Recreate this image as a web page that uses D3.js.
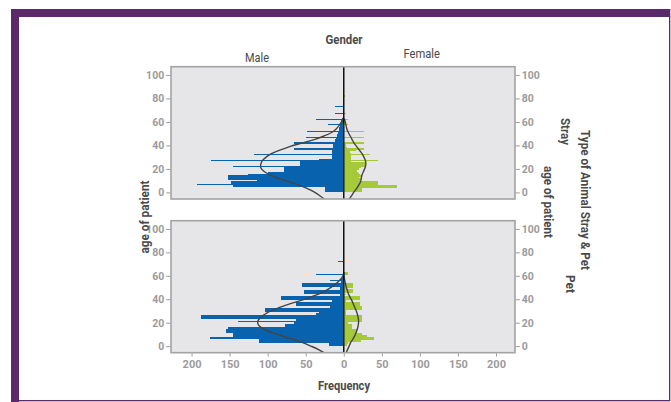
<!DOCTYPE html>
<html>
<head>
<meta charset="utf-8">
<script src="https://cdn.jsdelivr.net/npm/d3@7/dist/d3.min.js"></script>
<style>
  body { margin: 0; background: #fff; }
  text { font-family: Roboto, "Liberation Sans", sans-serif; }
</style>
</head>
<body>
<svg id="chart" width="671" height="402"></svg>
<script>
// counts per single year of age, index = age (0..82)
const strayMale = [
  0, 24, 24, 24, 25, 145, 145, 193, 148, 148,
  114, 152, 152, 152, 152, 126, 100, 100, 78, 78,
  78, 78, 146, 58, 58, 58, 58, 174, 33, 16,
  16, 16, 118, 15, 15, 15, 15, 65, 14, 14,
  14, 14, 65, 12, 12, 11, 10, 49, 9, 9,
  8, 8, 48, 6, 6, 6, 5, 5, 21, 4,
  3, 3, 36, 2, 0, 0, 0, 12, 0, 0,
  0, 0, 0, 11, 0, 0, 0, 0, 0, 0,
  0, 0, 0
];
const strayFemale = [
  0, 24, 24, 24, 70, 70, 70, 45, 45, 45,
  22, 22, 22, 20, 22, 21, 20, 19, 17, 17,
  20, 22, 29, 29, 29, 29, 10, 45, 9, 9,
  9, 9, 34, 9, 8, 8, 16, 27, 4, 3,
  3, 3, 27, 0, 0, 0, 0, 27, 0, 0,
  0, 0, 27, 0, 0, 0, 0, 0, 5, 2,
  2, 2, 5, 0, 0, 0, 0, 3, 0, 0,
  0, 0, 0, 0, 0, 0, 0, 0, 0, 0,
  0, 0, 2
];
const petMale = [
  0, 20, 20, 112, 112, 112, 112, 176, 145, 145,
  145, 145, 155, 155, 155, 152, 152, 77, 77, 65,
  65, 139, 63, 63, 187, 187, 187, 36, 36, 32,
  104, 104, 104, 18, 18, 63, 63, 63, 15, 15,
  83, 83, 83, 5, 5, 52, 52, 52, 5, 5,
  5, 55, 55, 55, 4, 4, 18, 3, 2, 0,
  0, 36, 0, 0, 0, 0, 0, 0, 0, 0,
  0, 0, 8, 0, 0, 0, 0, 0, 0, 0,
  0, 0, 0
];
const petFemale = [
  0, 4, 5, 5, 22, 22, 40, 40, 31, 31,
  24, 24, 18, 18, 18, 11, 11, 11, 11, 5,
  5, 24, 24, 24, 24, 24, 24, 3, 3, 3,
  3, 24, 24, 24, 24, 21, 21, 21, 3, 3,
  21, 21, 21, 0, 3, 0, 12, 12, 12, 3,
  12, 12, 12, 12, 0, 0, 0, 0, 0, 0,
  0, 6, 6, 6, 0, 0, 0, 0, 0, 0,
  0, 0, 0, 0, 0, 0, 0, 0, 0, 0,
  0, 0, 0
];

// density curves
const curveAges = [-6, -3, 0, 3, 6, 9, 12, 15, 18, 21, 24, 27, 30, 33, 36, 39, 42, 45, 48, 51, 54, 57, 60, 63];
const strayMaleCurve = [25, 31, 38, 47, 58, 71, 86, 97, 105, 109, 109, 107, 102, 95, 84, 71, 55, 39, 26, 16, 10, 6, 3, 0.5];
const strayFemaleCurve = [7, 10, 13, 16.5, 19.5, 22, 23, 24, 26, 28, 29, 28.5, 26.5, 24, 20.5, 17, 13.5, 11, 8.5, 6, 4, 3, 2, 0.5];
const petMaleCurve = [25, 33, 43, 54, 68, 82, 96, 106, 112, 113, 110, 104, 96, 84, 71, 56, 43, 31, 22, 15, 9, 4, 1, 0];
const petFemaleCurve = [3, 5, 7, 9, 12, 14.5, 16.5, 18, 19, 19.5, 19, 18, 16.5, 14.5, 12.5, 10.5, 8, 6, 4.5, 3, 2, 1, 0.3, 0];

const yTicks = [0, 20, 40, 60, 80, 100];
const xTicks = [-200, -150, -100, -50, 0, 50, 100, 150, 200];

const maleColor = "#0862ae";
const femaleColor = "#a6c93a";
const tickColor = "#9b9b9b";
const titleColor = "#4a4a4a";

const svg = d3.select("#chart");

// purple frame
const frame = "#5b2a6a";
svg.append("rect").attr("x", 11).attr("y", 9).attr("width", 659).attr("height", 8).attr("fill", frame);
svg.append("rect").attr("x", 11).attr("y", 9).attr("width", 8).attr("height", 393).attr("fill", frame);
svg.append("rect").attr("x", 669).attr("y", 9).attr("width", 1.3).attr("height", 392).attr("fill", frame);
svg.append("rect").attr("x", 11).attr("y", 400).attr("width", 659).attr("height", 1.3).attr("fill", frame);

const x = d3.scaleLinear().domain([-227, 225]).range([171, 515]);

const panels = [
  { name: "Stray", top: 66.7, bottom: 199, male: strayMale, female: strayFemale, mc: strayMaleCurve, fc: strayFemaleCurve },
  { name: "Pet", top: 220.7, bottom: 352.7, male: petMale, female: petFemale, mc: petMaleCurve, fc: petFemaleCurve }
];

panels.forEach((p, i) => {
  const y = d3.scaleLinear().domain([-5.6, 107]).range([p.bottom, p.top]);
  const g = svg.append("g");

  g.append("rect")
    .attr("x", x.range()[0]).attr("y", p.top)
    .attr("width", x.range()[1] - x.range()[0]).attr("height", p.bottom - p.top)
    .attr("fill", "#e6e6e8");

  const clipId = "clip" + i;
  svg.append("clipPath").attr("id", clipId)
    .append("rect")
    .attr("x", x.range()[0]).attr("y", p.top)
    .attr("width", x.range()[1] - x.range()[0]).attr("height", p.bottom - p.top);

  const inner = g.append("g").attr("clip-path", `url(#${clipId})`);

  // male bars go left, female bars go right
  inner.selectAll("rect.male")
    .data(p.male.map((v, a) => ({ a, v })).filter(d => d.v > 0))
    .join("rect")
    .attr("class", "male")
    .attr("x", d => x(-d.v))
    .attr("y", d => y(d.a + 0.5))
    .attr("width", d => x(0) - x(-d.v))
    .attr("height", d => y(d.a - 0.5) - y(d.a + 0.5))
    .attr("shape-rendering", "crispEdges")
    .attr("fill", maleColor);

  inner.selectAll("rect.female")
    .data(p.female.map((v, a) => ({ a, v })).filter(d => d.v > 0))
    .join("rect")
    .attr("class", "female")
    .attr("x", x(0))
    .attr("y", d => y(d.a + 0.5))
    .attr("width", d => x(d.v) - x(0))
    .attr("height", d => y(d.a - 0.5) - y(d.a + 0.5))
    .attr("shape-rendering", "crispEdges")
    .attr("fill", femaleColor);

  const line = d3.line().curve(d3.curveCatmullRom);
  inner.append("path")
    .attr("d", line(curveAges.map((a, k) => [x(-p.mc[k]), y(a)])))
    .attr("fill", "none").attr("stroke", "#444").attr("stroke-width", 1.4);
  inner.append("path")
    .attr("d", line(curveAges.map((a, k) => [x(p.fc[k]), y(a)])))
    .attr("fill", "none").attr("stroke", "#444").attr("stroke-width", 1.4);

  // zero line
  g.append("line")
    .attr("x1", x(0)).attr("x2", x(0))
    .attr("y1", p.top).attr("y2", p.bottom)
    .attr("stroke", "#111").attr("stroke-width", 1.5);

  // panel border
  g.append("rect")
    .attr("x", x.range()[0]).attr("y", p.top)
    .attr("width", x.range()[1] - x.range()[0]).attr("height", p.bottom - p.top)
    .attr("fill", "none").attr("stroke", "#a3a3a3").attr("stroke-width", 1.6);

  const left = g.append("g")
    .attr("transform", `translate(${x.range()[0] - 0.8},0)`)
    .call(d3.axisLeft(y).tickValues(yTicks).tickSize(4).tickPadding(2));
  const right = g.append("g")
    .attr("transform", `translate(${x.range()[1] + 0.8},0)`)
    .call(d3.axisRight(y).tickValues(yTicks).tickSize(4).tickPadding(2));
  [left, right].forEach(ax => {
    ax.select(".domain").remove();
    ax.selectAll("line").attr("stroke", tickColor);
    ax.selectAll("text").attr("fill", tickColor).attr("font-size", 10.5).attr("font-weight", "bold");
  });

  if (i === 1) {
    const bottom = g.append("g")
      .attr("transform", `translate(0,${p.bottom + 0.8})`)
      .call(d3.axisBottom(x).tickValues(xTicks).tickFormat(d => Math.abs(d)).tickSize(3).tickPadding(4));
    bottom.select(".domain").remove();
    bottom.selectAll("line").attr("stroke", tickColor);
    bottom.selectAll("text").attr("fill", tickColor).attr("font-size", 11).attr("font-weight", "bold");
  }
});

// titles
function label(txt, tx, ty, opts) {
  const t = svg.append("text")
    .attr("transform", `translate(${tx},${ty}) rotate(${opts.rot || 0})`)
    .attr("text-anchor", "middle")
    .attr("fill", titleColor)
    .attr("font-size", opts.size)
    .attr("font-weight", opts.bold ? "bold" : "normal")
    .text(txt);
  if (opts.rot) t.attr("dy", "0.35em");
  if (opts.len) t.attr("textLength", opts.len).attr("lengthAdjust", "spacingAndGlyphs");
  return t;
}

label("Gender", 344, 43.5, { size: 12, bold: true, len: 37 });
label("Male", 257, 61.5, { size: 13, len: 24 });
label("Female", 421.7, 58.3, { size: 13, len: 36.5 });
label("Frequency", 344, 389.5, { size: 12.5, bold: true, len: 52 });
label("age of patient", 145, 217, { size: 12, bold: true, rot: -90, len: 73 });
label("age of patient", 548.3, 202, { size: 12, bold: true, rot: 90, len: 72 });
label("Stray", 565, 131.5, { size: 12, bold: true, rot: 90, len: 27 });
label("Pet", 570, 284, { size: 12, bold: true, rot: 90, len: 18 });
label("Type of Animal Stray & Pet", 585, 200, { size: 12, bold: true, rot: 90, len: 140 });
</script>
</body>
</html>
